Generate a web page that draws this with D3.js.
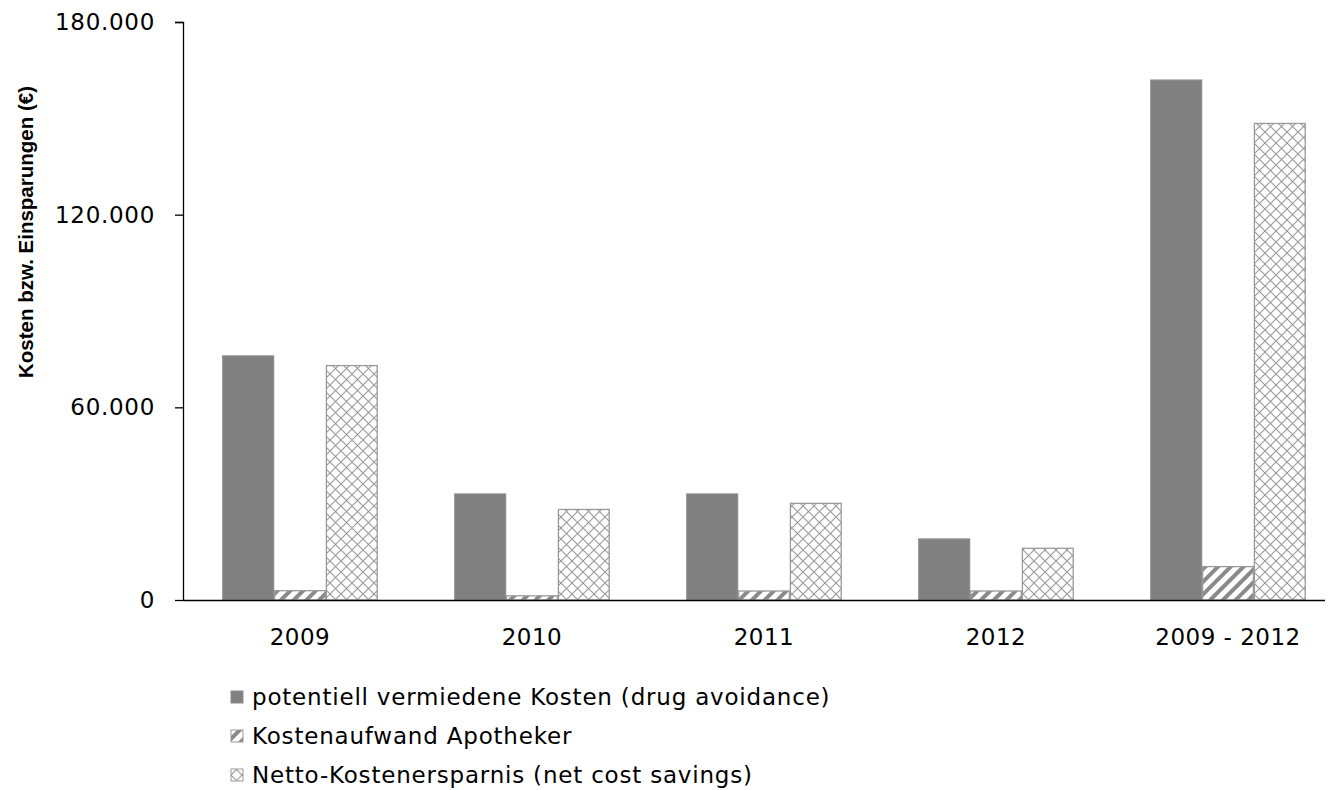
<!DOCTYPE html>
<html><head><meta charset="utf-8">
<script src="https://cdn.jsdelivr.net/npm/d3@7"></script>
<style>body{margin:0;background:#fff}svg{display:block}</style>
</head><body>
<svg id="c" width="1333" height="790"></svg>
<script>
const categories = ["2009","2010","2011","2012","2009 - 2012"];
const seriesNames = ["potentiell vermiedene Kosten (drug avoidance)","Kostenaufwand Apotheker","Netto-Kostenersparnis (net cost savings)"];
const avoided = [76000, 33000, 33000, 19000, 161900];
const pharmacistCost = [2900, 1300, 2800, 2800, 10400];
const netSavings = [73000, 28200, 30100, 16100, 148400];
const yTicks = [0, 60000, 120000, 180000];
const yTickLabels = ["0","60.000","120.000","180.000"];
const yTitle = "Kosten bzw. Einsparungen (€)";

const svg = d3.select("#c");
const font = "DejaVu Sans, Verdana, sans-serif";
const defs = svg.append("defs");
const p1 = defs.append("pattern").attr("id","hatch").attr("patternUnits","userSpaceOnUse")
  .attr("width",9).attr("height",9).attr("patternTransform","rotate(45)");
p1.append("rect").attr("width",9).attr("height",9).attr("fill","#fff");
p1.append("rect").attr("x",0).attr("width",4).attr("height",9).attr("fill","#8a8a8a");
const p2 = defs.append("pattern").attr("id","cross").attr("patternUnits","userSpaceOnUse")
  .attr("width",11).attr("height",11);
p2.append("rect").attr("width",11).attr("height",11).attr("fill","#fff");
p2.append("path").attr("d","M0,0L11,11M11,0L0,11").attr("stroke","#9a9a9a").attr("stroke-width",1.1);

const series = [
  {name:seriesNames[0], values:avoided, fill:"#808080", stroke:"#8c8c8c"},
  {name:seriesNames[1], values:pharmacistCost, fill:"url(#hatch)", stroke:"#9a9a9a"},
  {name:seriesNames[2], values:netSavings, fill:"url(#cross)", stroke:"#9a9a9a"}
];

const y = d3.scaleLinear().domain([0,180000]).range([600,22]);
const x0 = d3.scaleBand().domain(categories).range([184,1344]).paddingInner(0.33).paddingOuter(0.165);
const x1 = d3.scaleBand().domain(d3.range(series.length)).range([0,x0.bandwidth()]);

// bars
series.forEach((s,si)=>{
  svg.append("g").selectAll("rect").data(categories).join("rect")
    .attr("x", c=>x0(c)+x1(si)+0.5)
    .attr("width", x1.bandwidth()-1)
    .attr("y", (c,i)=>y(s.values[i]))
    .attr("height", (c,i)=>y(0)-y(s.values[i]))
    .attr("fill", s.fill).attr("stroke", s.stroke).attr("stroke-width",1.3);
});

// y axis
const ya = svg.append("g").attr("transform","translate(183,0)")
  .call(d3.axisLeft(y).tickValues(yTicks).tickSize(8).tickFormat((d,i)=>yTickLabels[i]));
ya.select(".domain").attr("stroke","#000").attr("stroke-width",1.3).attr("d","M-8,22.5H0.5V600.5");
ya.selectAll(".tick line").attr("stroke","#000").attr("stroke-width",1.3);
ya.selectAll(".tick text").attr("font-family",font).attr("font-size",23).attr("fill","#000")
  .attr("x",-28).attr("letter-spacing","0.7px");

// x axis line
svg.append("line").attr("x1",183).attr("x2",1325).attr("y1",y(0)+0.5).attr("y2",y(0)+0.5)
  .attr("stroke","#000").attr("stroke-width",1.3);
svg.append("g").selectAll("text").data(categories).join("text")
  .attr("x", c=>x0(c)+x0.bandwidth()/2).attr("y",645)
  .attr("text-anchor","middle").attr("font-family",font).attr("font-size",23).attr("fill","#000")
  .attr("letter-spacing","0.5px")
  .text(d=>d);

// y title
svg.append("text").attr("transform","translate(33,232) rotate(-90)")
  .attr("text-anchor","middle").attr("font-family","Liberation Sans, Arial, sans-serif")
  .attr("font-weight","bold").attr("font-size",20.5).attr("fill","#000").text(yTitle);

// legend
const lg = svg.append("g").selectAll("g").data(series).join("g")
  .attr("transform",(d,i)=>`translate(231,${697+i*39})`);
lg.append("rect").attr("x",0).attr("y",-6).attr("width",12).attr("height",12)
  .attr("fill",d=>d.fill).attr("stroke",d=>d.stroke).attr("stroke-width",1);
lg.append("text").attr("x",21).attr("y",0).attr("dy","0.35em")
  .attr("font-family",font).attr("font-size",23).attr("fill","#000")
  .attr("letter-spacing","0.8px").text(d=>d.name);
</script>
</body></html>
